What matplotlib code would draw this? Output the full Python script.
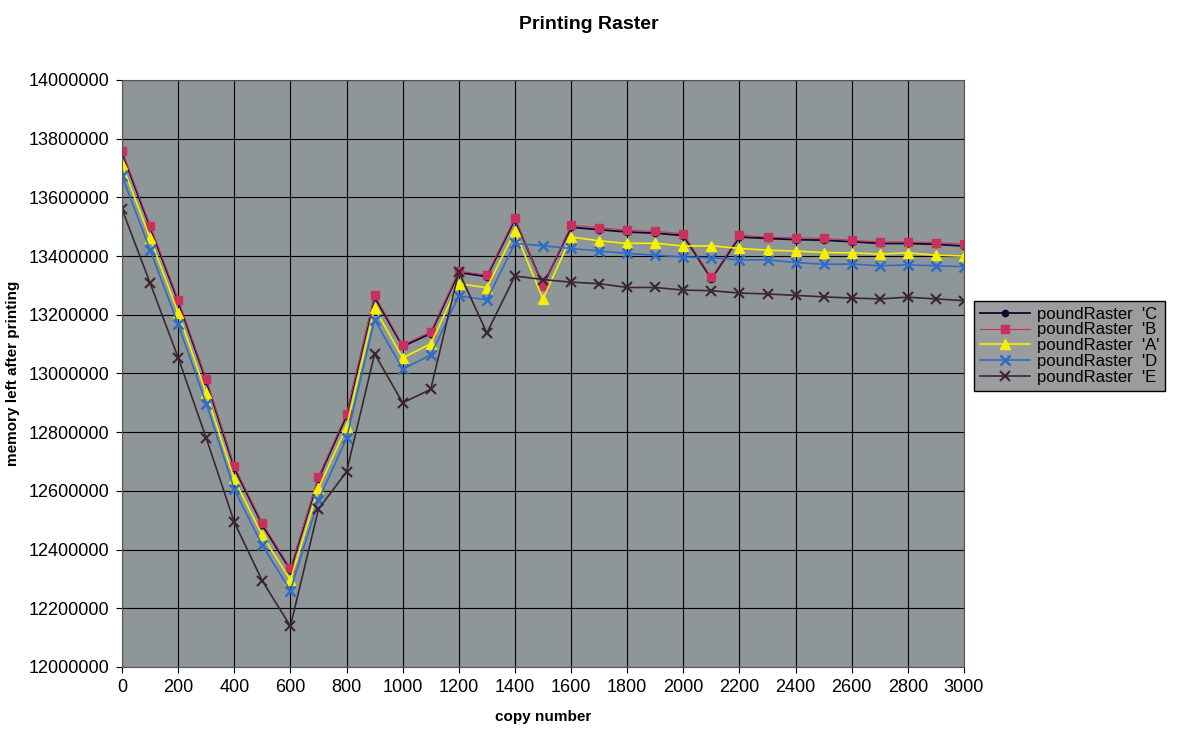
import matplotlib.pyplot as plt

plt.rcParams['font.family'] = ['Liberation Sans', 'DejaVu Sans']

# copy number
copies = [0, 100, 200, 300, 400, 500, 600, 700, 800, 900, 1000,
          1100, 1200, 1300, 1400, 1500, 1600, 1700, 1800, 1900, 2000,
          2100, 2200, 2300, 2400, 2500, 2600, 2700, 2800, 2900, 3000]

# memory left after printing, per raster type
raster_c = [13752000, 13498000, 13246000, 12975000, 12678000, 12484000, 12330000,
            12642000, 12856000, 13260000, 13092000, 13136000, 13344000, 13330000,
            13525000, 13300000, 13498000, 13490000, 13482000, 13478000, 13470000,
            13322000, 13465000, 13460000, 13456000, 13454000, 13449000, 13443000,
            13443000, 13440000, 13434000]
raster_b = [13758000, 13504000, 13252000, 12981000, 12684000, 12490000, 12336000,
            12648000, 12863000, 13267000, 13097000, 13142000, 13349000, 13335000,
            13530000, 13297000, 13505000, 13497000, 13488000, 13484000, 13476000,
            13327000, 13471000, 13465000, 13462000, 13460000, 13454000, 13448000,
            13448000, 13446000, 13440000]
raster_a = [13712000, 13461000, 13207000, 12932000, 12639000, 12448000, 12296000,
            12609000, 12818000, 13222000, 13053000, 13101000, 13306000, 13292000,
            13485000, 13254000, 13465000, 13452000, 13443000, 13444000, 13434000,
            13435000, 13426000, 13420000, 13417000, 13412000, 13411000, 13407000,
            13411000, 13403000, 13400000]
raster_d = [13673000, 13421000, 13167000, 12897000, 12605000, 12414000, 12260000,
            12569000, 12779000, 13183000, 13015000, 13063000, 13264000, 13251000,
            13443000, 13435000, 13426000, 13417000, 13409000, 13403000, 13397000,
            13394000, 13387000, 13387000, 13378000, 13372000, 13373000, 13367000,
            13370000, 13367000, 13364000]
raster_e = [13560000, 13308000, 13054000, 12780000, 12493000, 12293000, 12139000,
            12538000, 12665000, 13067000, 12900000, 12946000, 13347000, 13138000,
            13332000, 13320000, 13311000, 13306000, 13293000, 13293000, 13284000,
            13282000, 13274000, 13271000, 13266000, 13261000, 13257000, 13254000,
            13260000, 13254000, 13248000]

fig = plt.figure(figsize=(11.78, 7.31), dpi=100)
ax = fig.add_axes([0.1036, 0.0876, 0.7147, 0.803])
ax.set_facecolor('#8e9698')

ax.plot(copies, raster_c, '-o', color='#0a0a2a', markersize=4.5, linewidth=1.3, label="poundRaster  'C")
ax.plot(copies, raster_b, 's', color='#c8305e', markersize=6, linestyle='-', linewidth=0.8,
        markeredgecolor='#c8305e', label="poundRaster  'B")
ax.plot(copies, raster_a, '-^', color='#f5f000', markersize=6.5, linewidth=1.2, label="poundRaster  'A'")
ax.plot(copies, raster_d, '-x', color='#2f6cc8', markersize=6.5, markeredgewidth=1.8, linewidth=1.2,
        label="poundRaster  'D")
ax.plot(copies, raster_e, '-x', color='#3b2633', markersize=6.5, markeredgewidth=1.5, linewidth=1.2,
        label="poundRaster  'E")

ax.set_xlim(0, 3000)
ax.set_ylim(12000000, 14000000)
ax.set_xticks(range(0, 3001, 200))
ax.set_yticks(range(12000000, 14000001, 200000))
ax.ticklabel_format(style='plain', useOffset=False)
ax.grid(True, color='black', linewidth=0.8)
ax.set_axisbelow(True)
ax.tick_params(labelsize=13, direction='out', length=4, width=0.8, pad=5)
for s in ax.spines.values():
    s.set_color('#555555')

ax.set_xlabel('copy number', fontsize=11, fontweight='bold', labelpad=10)
ax.set_ylabel('memory left after printing', fontsize=11, fontweight='bold', labelpad=6)
fig.suptitle('Printing Raster', fontsize=14, fontweight='bold', y=0.978)

leg = fig.legend(loc='center left', bbox_to_anchor=(0.824, 0.527), fontsize=12,
                 frameon=True, fancybox=False, edgecolor='black', facecolor='#9a9c9e',
                 framealpha=1, handlelength=3.0, borderpad=0.35, labelspacing=0.05,
                 handletextpad=0.4, borderaxespad=0.2)

fig.savefig('out.png', dpi=100)
